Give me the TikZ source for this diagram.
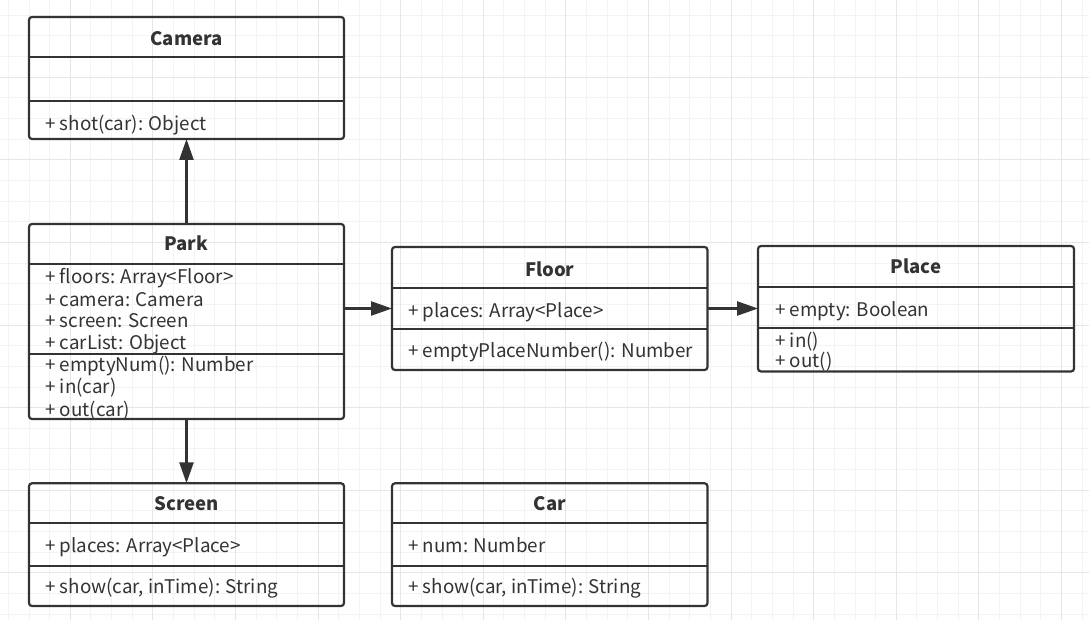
\documentclass[tikz,border=0pt]{standalone}
\usepackage{fontspec}
\setmainfont{Noto Sans CJK SC}
\usetikzlibrary{arrows.meta}
\definecolor{ink}{HTML}{333333}
\definecolor{gridminor}{HTML}{F3F3F3}
\definecolor{gridmajor}{HTML}{E6E6E6}
\tikzset{
  classbox/.style={draw=ink, line width=2.2pt, rounded corners=3pt, fill=none,
    inner sep=0pt, outer sep=0pt},
  divider/.style={draw=ink, line width=2.2pt},
  title/.style={font=\fontsize{18.5}{20}\selectfont\bfseries, text=ink, inner sep=0pt},
  member/.style={font=\fontsize{18.8}{20}\selectfont, text=ink, inner sep=0pt,
    anchor=mid west, yshift=-4.5pt},
  assoc/.style={draw=ink, line width=2.4pt, -{Triangle[length=21pt,width=14pt]}},
}
\begin{document}
\begin{tikzpicture}[x=1pt, y=-1pt]
\useasboundingbox (0,0) rectangle (1089,620);
\fill[white] (0,0) rectangle (1089,620);
% background grid
\foreach \i in {0,...,52} {
  \draw[gridminor, line width=1pt] ({8.35+20.65*\i},0) -- ({8.35+20.65*\i},620);
}
\foreach \i in {0,...,29} {
  \draw[gridminor, line width=1pt] (0,{15.3+20.65*\i}) -- (1089,{15.3+20.65*\i});
}
\foreach \i in {0,...,12} {
  \draw[gridmajor, line width=1pt] ({70.3+82.6*\i},0) -- ({70.3+82.6*\i},620);
}
\foreach \i in {0,...,6} {
  \draw[gridmajor, line width=1pt] (0,{77.25+82.6*\i}) -- (1089,{77.25+82.6*\i});
}

% Camera
\node[classbox, minimum width=315pt, minimum height=122pt] (camera) at (186.5,78) {};
\draw[divider] (29,57.3) -- (344,57.3);
\draw[divider] (29,101) -- (344,101);
\node[title] (cameraT) at (186.5,38.3) {Camera};
\node[member] (cameraM1) at (45,123.3) {+ shot(car): Object};

% Park
\node[classbox, minimum width=315pt, minimum height=195pt] (park) at (186.5,321.5) {};
\draw[divider] (29,264.3) -- (344,264.3);
\draw[divider] (29,354) -- (344,354);
\node[title] (parkT) at (186.5,243.3) {Park};
\node[member] (parkA1) at (45,276.7) {+ floors: Array<Floor>};
\node[member] (parkA2) at (45,299.3) {+ camera: Camera};
\node[member] (parkA3) at (45,320.7) {+ screen: Screen};
\node[member] (parkA4) at (45,342.7) {+ carList: Object};
\node[member] (parkM1) at (45,364.3) {+ emptyNum(): Number};
\node[member] (parkM2) at (45,386.7) {+ in(car)};
\node[member] (parkM3) at (45,409) {+ out(car)};

% Floor
\node[classbox, minimum width=315.5pt, minimum height=123pt] (floor) at (549.75,308.5) {};
\draw[divider] (392,287.7) -- (707.5,287.7);
\draw[divider] (392,329.3) -- (707.5,329.3);
\node[title] (floorT) at (549.75,269.3) {Floor};
\node[member] (floorA1) at (408,310) {+ places: Array<Place>};
\node[member] (floorM1) at (408,350.7) {+ emptyPlaceNumber(): Number};

% Place
\node[classbox, minimum width=316pt, minimum height=125.5pt] (place) at (916,308.75) {};
\draw[divider] (758,286.7) -- (1074,286.7);
\draw[divider] (758,328.3) -- (1074,328.3);
\node[title] (placeT) at (916,266.7) {Place};
\node[member] (placeA1) at (775,309) {+ empty: Boolean};
\node[member] (placeM1) at (775,340) {+ in()};
\node[member] (placeM2) at (775,360.7) {+ out()};

% Screen
\node[classbox, minimum width=315pt, minimum height=122.7pt] (screen) at (186.5,544.65) {};
\draw[divider] (29,523.3) -- (344,523.3);
\draw[divider] (29,565.7) -- (344,565.7);
\node[title] (screenT) at (186.5,503.3) {Screen};
\node[member] (screenA1) at (45,545) {+ places: Array<Place>};
\node[member] (screenM1) at (45,586) {+ show(car, inTime): String};

% Car
\node[classbox, minimum width=315.5pt, minimum height=122.7pt] (car) at (549.75,544.65) {};
\draw[divider] (392,523.3) -- (707.5,523.3);
\draw[divider] (392,565.7) -- (707.5,565.7);
\node[title] (carT) at (549.75,503.3) {Car};
\node[member] (carA1) at (408,545) {+ num: Number};
\node[member] (carM1) at (408,586) {+ show(car, inTime): String};

% associations
\draw[assoc] (park.north) -- (camera.south);
\draw[assoc] (park.south) -- (screen.north);
\draw[assoc] (park.east |- floor.west) -- (floor.west);
\draw[assoc] (floor.east) -- (floor.east -| place.west);
\end{tikzpicture}
\end{document}
